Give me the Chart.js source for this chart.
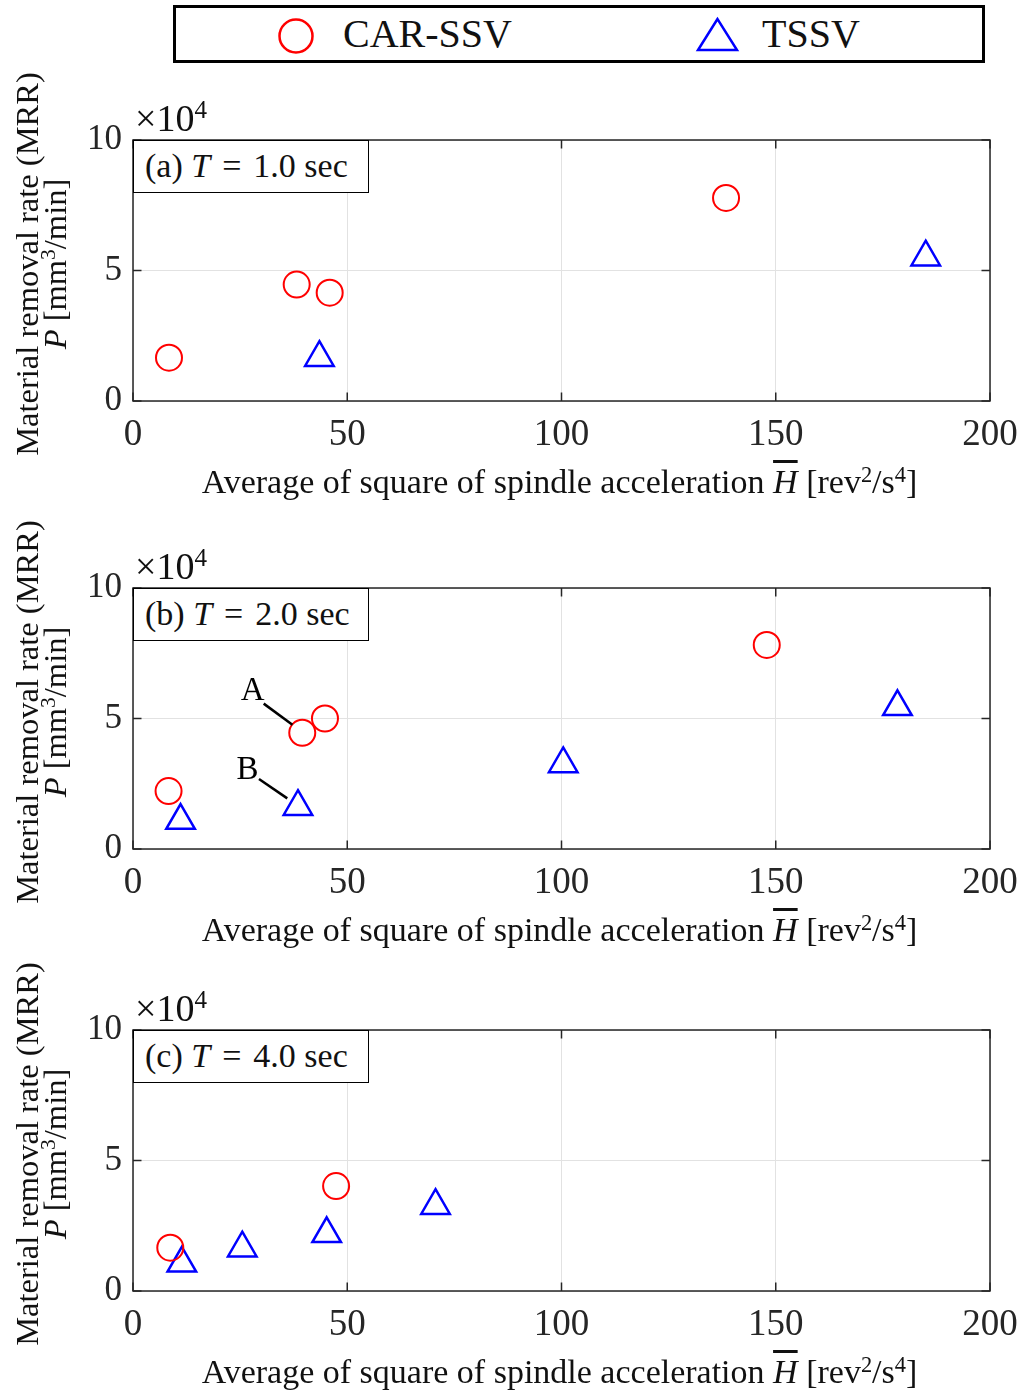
<!DOCTYPE html>
<html>
<head>
<meta charset="utf-8">
<title>MRR vs spindle acceleration</title>
<script src="https://cdn.jsdelivr.net/npm/chart.js@4.4.1/dist/chart.umd.min.js"></script>
<style>
  body { margin: 0; width: 1026px; height: 1395px; overflow: hidden; background: #fff; position: relative;
         font-family: 'Liberation Serif', 'Times New Roman', serif; color: #111; }
  .panel { position: absolute; left: 0; width: 1026px; height: 435px; }
  .panel canvas { position: absolute; left: 0; top: 0; }
  .ylab { position: absolute; left: -169.5px; top: 166px; width: 420px; height: 56px; font-size: 32.5px; line-height: 28px;
          text-align: center; white-space: nowrap; transform: rotate(-90deg); }
  .xlab { position: absolute; left: 131px; width: 857px; top: 392px; height: 40px; line-height: 40px; font-size: 34px;
          text-align: center; white-space: nowrap; }
  .expo { position: absolute; left: 135px; top: 28px; font-size: 38px; line-height: 40px; white-space: nowrap; }
  .tag { position: absolute; left: 133px; top: 70px; width: 236px; height: 53px; box-sizing: border-box; border: 1.5px solid #000;
         background: #fff; font-size: 34px; line-height: 50px; padding-left: 11px; white-space: nowrap; }
  .tag .eq { margin: 0 12px; }
  .sup { font-size: 0.66em; vertical-align: 0.5em; line-height: 0; }
  .bar { text-decoration: overline; }
  #legend { position: absolute; left: 173px; top: 5px; width: 812px; height: 58px; box-sizing: border-box; border: 3px solid #000; }
  #legend svg { position: absolute; left: 0; top: 0; }
  #legend span { position: absolute; top: 4px; font-size: 40px; line-height: 44px; white-space: nowrap; }
</style>
</head>
<body>

<div id="legend">
  <svg width="806" height="52">
    <circle cx="120" cy="28" r="16.5" fill="none" stroke="#ff0000" stroke-width="2.5"/>
    <polygon points="541.5,11 522,42 561,42" fill="none" stroke="#0000ff" stroke-width="2.5"/>
  </svg>
  <span style="left:167px">CAR-SSV</span>
  <span style="left:586px">TSSV</span>
</div>

<div class="panel" style="top:70px">
  <canvas id="chartA" width="1026" height="435"></canvas>
  <div class="ylab">Material removal rate (MRR)<br><i>P</i> [mm<span class="sup">3</span>/min]</div>
  <div class="xlab">Average of square of spindle acceleration <i class="bar">H</i> [rev<span class="sup">2</span>/s<span class="sup">4</span>]</div>
  <div class="expo">×10<span class="sup">4</span></div>
  <div class="tag">(a) <i>T</i><span class="eq">=</span>1.0 sec</div>
</div>

<div class="panel" style="top:518px">
  <canvas id="chartB" width="1026" height="435"></canvas>
  <div class="ylab">Material removal rate (MRR)<br><i>P</i> [mm<span class="sup">3</span>/min]</div>
  <div class="xlab">Average of square of spindle acceleration <i class="bar">H</i> [rev<span class="sup">2</span>/s<span class="sup">4</span>]</div>
  <div class="expo">×10<span class="sup">4</span></div>
  <div class="tag">(b) <i>T</i><span class="eq">=</span>2.0 sec</div>
</div>

<div class="panel" style="top:960px">
  <canvas id="chartC" width="1026" height="435"></canvas>
  <div class="ylab">Material removal rate (MRR)<br><i>P</i> [mm<span class="sup">3</span>/min]</div>
  <div class="xlab">Average of square of spindle acceleration <i class="bar">H</i> [rev<span class="sup">2</span>/s<span class="sup">4</span>]</div>
  <div class="expo">×10<span class="sup">4</span></div>
  <div class="tag">(c) <i>T</i><span class="eq">=</span>4.0 sec</div>
</div>

<script>
// axis ticks
const xTicks = [0, 50, 100, 150, 200];
const yTicks = [0, 5, 10];          // ×10^4 mm^3/min

// (a) T = 1.0 sec
const carX_a = [8.4, 38.2, 45.9, 138.4];
const carY_a = [16600, 44600, 41500, 77800];
const tsX_a = [43.5, 185.0];
const tsY_a = [16600, 55100];

// (b) T = 2.0 sec
const carX_b = [8.3, 39.5, 44.8, 147.9];
const carY_b = [22200, 44500, 50000, 78200];
const tsX_b = [11.1, 38.5, 100.4, 178.4];
const tsY_b = [10900, 16200, 32600, 54500];

// (c) T = 4.0 sec
const carX_c = [8.7, 47.4];
const carY_c = [16600, 40200];
const tsX_c = [11.4, 25.5, 45.2, 70.6];
const tsY_c = [10600, 16400, 21900, 32700];

// callouts A / B in panel (b): label point, then leader line from -> to (data units)
const noteText_b = ['A', 'B'];
const noteAt_b = [[27.9, 60600], [26.7, 30200]];
const noteLine_b = [[[30.5, 55700], [37.2, 47600]], [[29.4, 26800], [36.0, 19400]]];

Chart.defaults.font.family = "'Liberation Serif', 'Times New Roman', serif";
Chart.defaults.color = '#262626';

function toPoints(xs, ys) {
  return xs.map((x, i) => ({ x: x, y: ys[i] }));
}

// axes box + inward tick marks (matlab style)
const frame = {
  id: 'frame',
  beforeDatasetsDraw(chart) {
    const ctx = chart.ctx, a = chart.chartArea;
    const x = chart.scales.x, y = chart.scales.y;
    const tl = 8.5;
    ctx.save();
    ctx.strokeStyle = '#262626';
    ctx.lineWidth = 1.5;
    ctx.strokeRect(a.left, a.top, a.right - a.left, a.bottom - a.top);
    ctx.beginPath();
    xTicks.forEach(v => {
      const px = x.getPixelForValue(v);
      ctx.moveTo(px, a.bottom); ctx.lineTo(px, a.bottom - tl);
      ctx.moveTo(px, a.top); ctx.lineTo(px, a.top + tl);
    });
    yTicks.forEach(v => {
      const py = y.getPixelForValue(v * 1e4);
      ctx.moveTo(a.left, py); ctx.lineTo(a.left + tl, py);
      ctx.moveTo(a.right, py); ctx.lineTo(a.right - tl, py);
    });
    ctx.stroke();
    ctx.restore();
  }
};

// text callouts with leader lines
const notes = {
  id: 'notes',
  afterDatasetsDraw(chart, args, opts) {
    if (!opts || !opts.text) return;
    const ctx = chart.ctx;
    const x = chart.scales.x, y = chart.scales.y;
    ctx.save();
    ctx.strokeStyle = '#000';
    ctx.lineWidth = 2.5;
    ctx.fillStyle = '#000';
    ctx.font = "33px 'Liberation Serif', 'Times New Roman', serif";
    ctx.textAlign = 'center';
    ctx.textBaseline = 'middle';
    opts.text.forEach((t, i) => {
      const ln = opts.lines[i];
      ctx.beginPath();
      ctx.moveTo(x.getPixelForValue(ln[0][0]), y.getPixelForValue(ln[0][1]));
      ctx.lineTo(x.getPixelForValue(ln[1][0]), y.getPixelForValue(ln[1][1]));
      ctx.stroke();
      ctx.fillText(t, x.getPixelForValue(opts.at[i][0]), y.getPixelForValue(opts.at[i][1]));
    });
    ctx.restore();
  }
};

function makePanel(id, carX, carY, tsX, tsY, noteOpts) {
  return new Chart(document.getElementById(id), {
    type: 'scatter',
    data: {
      datasets: [
        {
          label: 'CAR-SSV',
          data: toPoints(carX, carY),
          pointStyle: 'circle',
          pointRadius: 13,
          pointHoverRadius: 13,
          borderColor: '#ff0000',
          backgroundColor: 'rgba(0,0,0,0)',
          borderWidth: 2
        },
        {
          label: 'TSSV',
          data: toPoints(tsX, tsY),
          pointStyle: 'triangle',
          pointRadius: 16.5,
          pointHoverRadius: 16.5,
          borderColor: '#0000ff',
          backgroundColor: 'rgba(0,0,0,0)',
          borderWidth: 2.5
        }
      ]
    },
    options: {
      responsive: false,
      animation: false,
      events: [],
      layout: { padding: { top: 70, right: 36, left: 0, bottom: 0 } },
      plugins: {
        legend: { display: false },
        tooltip: { enabled: false },
        notes: noteOpts || {}
      },
      scales: {
        x: {
          type: 'linear',
          min: 0,
          max: 200,
          // fixed axis band; end labels may hang past the plot edge
          afterFit: s => { s.height = 104; s.paddingLeft = 0; s.paddingRight = 0; },
          afterBuildTicks: s => { s.ticks = xTicks.map(v => ({ value: v })); },
          ticks: { padding: 12, font: { size: 37 }, maxRotation: 0 },
          grid: { color: '#e2e2e2', lineWidth: 1, drawTicks: false },
          border: { display: false }
        },
        y: {
          type: 'linear',
          min: 0,
          max: 100000,
          afterFit: s => { s.width = 133; s.paddingTop = 0; s.paddingBottom = 0; },
          afterBuildTicks: s => { s.ticks = yTicks.map(v => ({ value: v * 1e4 })); },
          ticks: { padding: 11, font: { size: 35 }, callback: v => String(v / 1e4) },
          grid: { color: '#e2e2e2', lineWidth: 1, drawTicks: false },
          border: { display: false }
        }
      }
    },
    plugins: [frame, notes]
  });
}

makePanel('chartA', carX_a, carY_a, tsX_a, tsY_a);
makePanel('chartB', carX_b, carY_b, tsX_b, tsY_b, { text: noteText_b, at: noteAt_b, lines: noteLine_b });
makePanel('chartC', carX_c, carY_c, tsX_c, tsY_c);
</script>
</body>
</html>
